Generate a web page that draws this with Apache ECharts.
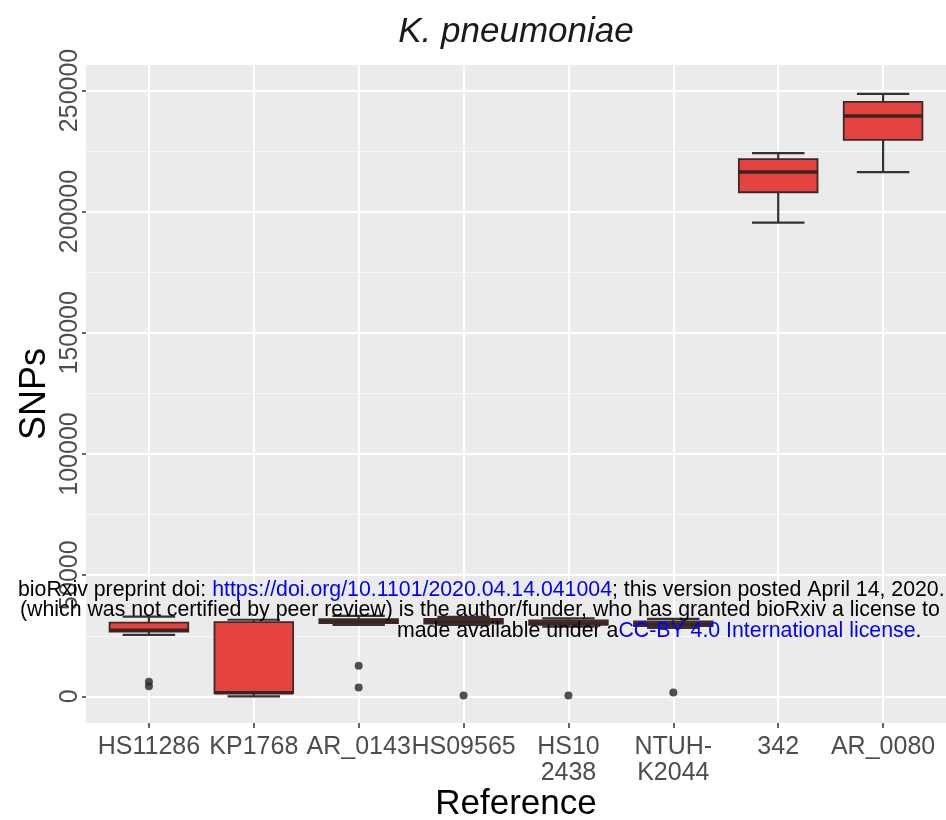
<!DOCTYPE html>
<html>
<head>
<meta charset="utf-8">
<script src="https://cdn.jsdelivr.net/npm/echarts@6/dist/echarts.min.js"></script>
<style>
  html, body { margin: 0; padding: 0; background: #ffffff; }
  #chart { width: 946px; height: 820px; }
</style>
</head>
<body>
<div id="chart"></div>
<script>
// Reference genomes on the x axis, SNP counts per genome as box summaries
const categories = ['HS11286', 'KP1768', 'AR_0143', 'HS09565', 'HS102438', 'NTUH-K2044', '342', 'AR_0080'];
const tickLabels = ['HS11286', 'KP1768', 'AR_0143', 'HS09565', 'HS10\n2438', 'NTUH-\nK2044', '342', 'AR_0080'];

const lowerWhisker = [25400,     0, 29500, 29500, 28800, 28200, 195500, 216300];
const lowerQuartile = [26700,  1300, 30200, 30000, 29500, 29000, 208000, 229600];
const medianValue  = [27300,  1500, 31000, 31000, 30300, 29800, 216300, 239500];
const upperQuartile = [30400, 30600, 31800, 32000, 31300, 30900, 221700, 245300];
const upperWhisker = [32900, 31600, 33200, 32800, 32200, 32000, 224100, 248600];

// Points beyond the whiskers: category index and SNP count
const outlierIndex = [0, 0, 2, 2, 3, 4, 5];
const outlierValue = [6000, 4200, 12600, 3600, 300, 300, 1600];

const yTicks = [0, 50000, 100000, 150000, 200000, 250000];
const yMinorTicks = [25000, 75000, 125000, 175000, 225000];
const xTicks = categories.map((c, i) => i);

const Y_MIN = -11000, Y_MAX = 260500;
const FONT = '"Liberation Sans", Arial, Helvetica, sans-serif';

const boxData = categories.map((c, i) => [
  i, lowerWhisker[i], lowerQuartile[i], medianValue[i], upperQuartile[i], upperWhisker[i]
]);
const outlierData = outlierIndex.map((k, j) => [k, outlierValue[j]]);

function renderBox(params, api) {
  const x = api.value(0);
  const pLow = api.coord([x, api.value(1)]);
  const pQ1 = api.coord([x, api.value(2)]);
  const pMed = api.coord([x, api.value(3)]);
  const pQ3 = api.coord([x, api.value(4)]);
  const pHigh = api.coord([x, api.value(5)]);
  const unit = api.size([1, 0])[0];
  const boxW = unit * 0.75;
  const capW = unit * 0.5;
  const cx = pLow[0];
  const whisker = { stroke: '#333333', lineWidth: 2.2 };
  return {
    type: 'group',
    children: [
      { type: 'line', shape: { x1: cx, y1: pLow[1], x2: cx, y2: pQ1[1] }, style: whisker },
      { type: 'line', shape: { x1: cx, y1: pQ3[1], x2: cx, y2: pHigh[1] }, style: whisker },
      { type: 'line', shape: { x1: cx - capW / 2, y1: pLow[1], x2: cx + capW / 2, y2: pLow[1] }, style: whisker },
      { type: 'line', shape: { x1: cx - capW / 2, y1: pHigh[1], x2: cx + capW / 2, y2: pHigh[1] }, style: whisker },
      {
        type: 'rect',
        shape: { x: cx - boxW / 2, y: pQ3[1], width: boxW, height: pQ1[1] - pQ3[1] },
        style: { fill: '#e5433f', stroke: '#3a2a2a', lineWidth: 1.8 }
      },
      {
        type: 'line',
        shape: { x1: cx - boxW / 2, y1: pMed[1], x2: cx + boxW / 2, y2: pMed[1] },
        style: { stroke: '#3a2424', lineWidth: 3.5 }
      }
    ]
  };
}

const chart = echarts.init(document.getElementById('chart'), null, { renderer: 'canvas' });

chart.setOption({
  animation: false,
  backgroundColor: '#ffffff',
  textStyle: { fontFamily: FONT },
  title: {
    text: 'K. pneumoniae',
    left: 511,
    top: 10,
    textAlign: 'center',
    textStyle: { fontFamily: FONT, fontStyle: 'italic', fontWeight: 'normal', fontSize: 35, color: '#1a1a1a' }
  },
  grid: {
    left: 86, right: 0, top: 65, bottom: 97,
    outerBoundsMode: 'none',
    show: true, backgroundColor: '#ebebeb', borderWidth: 0
  },
  xAxis: {
    type: 'value',
    min: -0.6,
    max: 7.6,
    name: 'Reference',
    nameLocation: 'middle',
    nameGap: 64,
    nameMoveOverlap: false,
    nameTextStyle: { fontFamily: FONT, fontSize: 35, color: '#000000' },
    axisLine: { show: false, onZero: false },
    axisTick: { show: true, customValues: xTicks, length: 5, lineStyle: { color: '#333333', width: 1.5 } },
    axisLabel: {
      customValues: xTicks,
      formatter: v => tickLabels[Math.round(v)],
      fontFamily: FONT, fontSize: 25, color: '#4d4d4d', lineHeight: 26, margin: 11
    },
    splitLine: { show: true, lineStyle: { color: '#ffffff', width: 2 } }
  },
  yAxis: [
    {
      type: 'value',
      min: Y_MIN,
      max: Y_MAX,
      name: 'SNPs',
      nameLocation: 'middle',
      nameGap: 33,
      nameRotate: 90,
      nameMoveOverlap: false,
      nameTextStyle: { fontFamily: FONT, fontSize: 36, color: '#000000' },
      axisLine: { show: false, onZero: false },
      axisTick: { show: true, customValues: yTicks, length: 4, lineStyle: { color: '#333333', width: 1.5 } },
      axisLabel: {
        customValues: yTicks,
        formatter: v => String(v),
        rotate: 90,
        fontFamily: FONT, fontSize: 25, color: '#4d4d4d', margin: 3
      },
      splitLine: { show: true, lineStyle: { color: '#ffffff', width: 2 } }
    },
    {
      // minor horizontal grid lines halfway between the labelled ticks
      type: 'value',
      min: Y_MIN,
      max: Y_MAX,
      position: 'left',
      axisLine: { show: false, onZero: false },
      axisTick: { show: false, customValues: yMinorTicks },
      axisLabel: { show: false, customValues: yMinorTicks },
      splitLine: { show: true, lineStyle: { color: '#f7f7f7', width: 1 } }
    }
  ],
  series: [
    {
      name: 'SNPs',
      type: 'custom',
      renderItem: renderBox,
      encode: { x: 0, y: [1, 2, 3, 4, 5] },
      data: boxData,
      z: 3
    },
    {
      name: 'outliers',
      type: 'scatter',
      data: outlierData,
      symbol: 'circle',
      symbolSize: 8,
      itemStyle: { color: '#262626' },
      z: 4
    }
  ],
  graphic: [
    {
      type: 'text', x: 18, y: 590, z: 100,
      style: {
        text: '{t|bioRxiv preprint doi: }{l|https://doi.org/10.1101/2020.04.14.041004}{t|; this version posted April 14, 2020.}',
        verticalAlign: 'middle',
        rich: {
          t: { fill: '#000000', fontSize: 21.3, fontFamily: FONT },
          l: { fill: '#0000ff', fontSize: 21.3, fontFamily: FONT }
        }
      }
    },
    {
      type: 'text', x: 20, y: 610, z: 100,
      style: {
        text: '(which was not certified by peer review) is the author/funder, who has granted bioRxiv a license to',
        verticalAlign: 'middle',
        fill: '#000000', fontSize: 21.3, fontFamily: FONT
      }
    },
    {
      type: 'text', x: 397, y: 631, z: 100,
      style: {
        text: '{t|made available under a}{l|CC-BY 4.0 International license}{t|.}',
        verticalAlign: 'middle',
        rich: {
          t: { fill: '#000000', fontSize: 21.3, fontFamily: FONT },
          l: { fill: '#0000ff', fontSize: 21.3, fontFamily: FONT }
        }
      }
    }
  ]
});
</script>
</body>
</html>
